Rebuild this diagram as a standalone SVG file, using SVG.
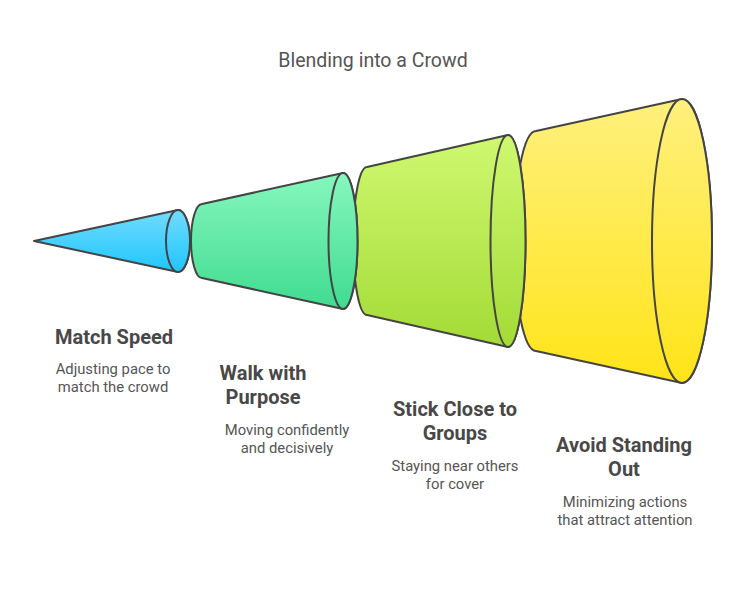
<svg xmlns="http://www.w3.org/2000/svg" width="746" height="602" viewBox="0 0 746 602">
<style>
.s{stroke:#444;stroke-width:2;stroke-linejoin:round}
.t{font-family:Roboto,"Liberation Sans",sans-serif;text-anchor:middle}
.h{font-size:20px;font-weight:bold;fill:#484848}
.d{font-size:14.8px;fill:#555}
.ti{font-size:19.5px;fill:#555}
</style>
<defs>
<linearGradient id="gb" x1="0" y1="0" x2="0" y2="1"><stop offset="0" stop-color="#72dbff"/><stop offset="1" stop-color="#1ec6fc"/></linearGradient>
<linearGradient id="gg" x1="0" y1="0" x2="0" y2="1"><stop offset="0" stop-color="#86f7bd"/><stop offset="1" stop-color="#40db90"/></linearGradient>
<linearGradient id="gl" x1="0" y1="0" x2="0" y2="1"><stop offset="0" stop-color="#cff870"/><stop offset="1" stop-color="#a3db36"/></linearGradient>
<linearGradient id="gy" x1="0" y1="0" x2="0" y2="1"><stop offset="0" stop-color="#fff07e"/><stop offset="1" stop-color="#ffe418"/></linearGradient>
</defs>
<rect width="746" height="602" fill="#fff"/>
<text class="t ti" x="373" y="67">Blending into a Crowd</text>
<g id="connectors"></g>
<g id="avoid-standing-out">
<path class="s" fill="url(#gy)" d="M536,131 L682,99 A30,142 0 0 1 682,383 L536,351 A22,110 0 0 1 536,131 Z"/>
<ellipse class="s" fill="url(#gy)" cx="682" cy="241" rx="30" ry="142"/>
<text class="t h" x="624" y="452">Avoid Standing</text>
<text class="t h" x="624" y="476">Out</text>
<text class="t d" x="625" y="507">Minimizing actions</text>
<text class="t d" x="625" y="525">that attract attention</text>
</g>
<g id="stick-close">
<path class="s" fill="url(#gl)" d="M367,167 L508,135 A17.5,106 0 0 1 508,347 L367,315 A14,74 0 0 1 367,167 Z"/>
<ellipse class="s" fill="url(#gl)" cx="508" cy="241" rx="17.5" ry="106"/>
<text class="t h" x="455" y="416">Stick Close to</text>
<text class="t h" x="455" y="440">Groups</text>
<text class="t d" x="455" y="471">Staying near others</text>
<text class="t d" x="455" y="489">for cover</text>
</g>
<g id="walk-with-purpose">
<path class="s" fill="url(#gg)" d="M202,204 L343,173 A14.5,68 0 0 1 343,309 L202,278 A11,37 0 0 1 202,204 Z"/>
<ellipse class="s" fill="url(#gg)" cx="343" cy="241" rx="14.5" ry="68"/>
<text class="t h" x="263" y="380">Walk with</text>
<text class="t h" x="263" y="404">Purpose</text>
<text class="t d" x="287" y="435">Moving confidently</text>
<text class="t d" x="287" y="453">and decisively</text>
</g>
<g id="match-speed">
<path class="s" fill="url(#gb)" d="M34,241 L178,210 A12,31 0 0 1 178,272 Z"/>
<ellipse class="s" fill="url(#gb)" cx="178" cy="241" rx="12" ry="31"/>
<text class="t h" x="114" y="344">Match Speed</text>
<text class="t d" x="113" y="374">Adjusting pace to</text>
<text class="t d" x="113" y="392">match the crowd</text>
</g>
</svg>
